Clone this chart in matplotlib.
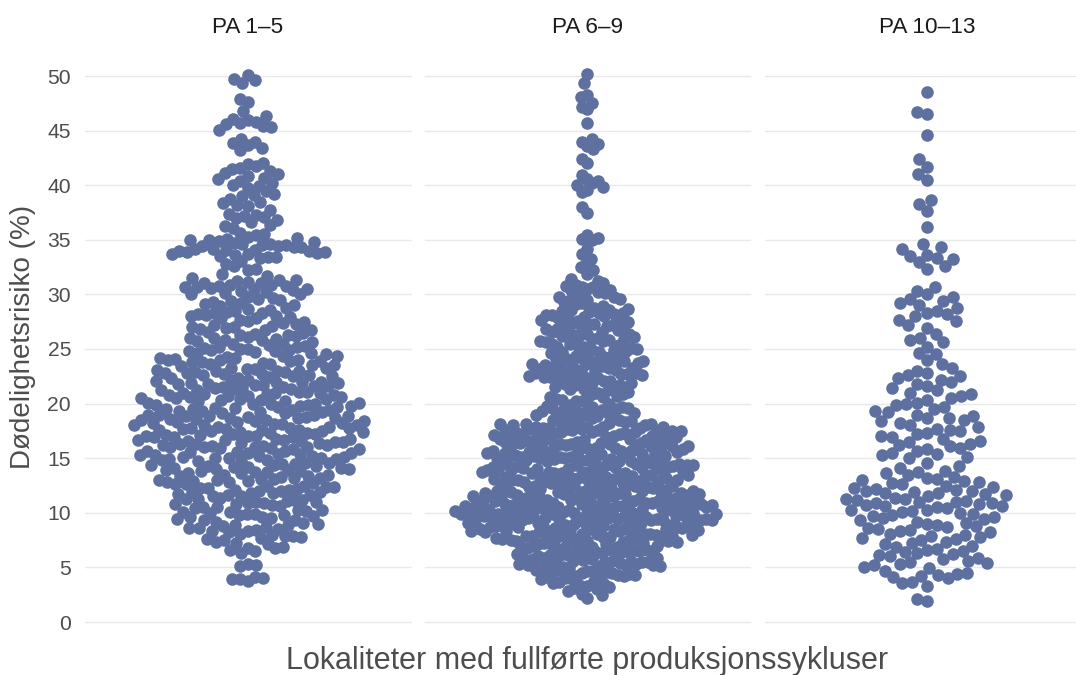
import matplotlib
matplotlib.use('Agg')
import matplotlib.pyplot as plt
import numpy as np

panel_names = ['PA 1–5', 'PA 6–9', 'PA 10–13']
y_ticks = [0, 5, 10, 15, 20, 25, 30, 35, 40, 45, 50]

pa_1_5 = [3.8,3.9,3.9,4.0,4.1,5.1,5.2,5.3,
6.3,6.5,6.6,6.8,6.8,6.9,
7.1,7.2,7.3,7.5,7.6,7.7,7.8,7.9,7.9,
8.0,8.1,8.2,8.3,8.3,8.4,8.5,8.6,8.6,8.7,8.8,8.9,8.9,
9.0,9.1,9.2,9.3,9.3,9.4,9.5,9.6,9.6,9.7,9.8,9.8,9.9,9.9,
10.0,10.1,10.1,10.2,10.3,10.3,10.4,10.5,10.5,10.6,10.7,10.8,10.8,10.9,10.9,
11.0,11.0,11.1,11.2,11.2,11.3,11.3,11.4,11.5,11.5,11.6,11.6,11.7,11.8,11.8,11.9,11.9,
12.0,12.0,12.1,12.1,12.2,12.3,12.3,12.4,12.4,12.5,12.5,12.6,12.6,12.7,12.8,12.8,12.9,12.9,13.0,
13.0,13.1,13.1,13.2,13.2,13.3,13.4,13.4,13.5,13.5,13.6,13.6,13.7,13.7,13.8,13.8,13.9,13.9,14.0,14.0,
14.1,14.1,14.2,14.2,14.3,14.3,14.4,14.4,14.5,14.5,14.6,14.6,14.7,14.7,14.8,14.8,14.9,14.9,15.0,15.0,15.0,
15.1,15.1,15.2,15.2,15.3,15.3,15.4,15.4,15.5,15.5,15.6,15.6,15.7,15.7,15.8,15.8,15.9,15.9,16.0,16.0,16.0,16.0,
16.1,16.1,16.2,16.2,16.3,16.3,16.4,16.4,16.5,16.5,16.6,16.6,16.7,16.7,16.7,16.8,16.8,16.9,16.9,16.9,17.0,17.0,17.0,
17.1,17.1,17.2,17.2,17.3,17.3,17.4,17.4,17.5,17.5,17.6,17.6,17.6,17.7,17.7,17.8,17.8,17.8,17.9,17.9,18.0,18.0,18.0,
18.1,18.1,18.2,18.2,18.3,18.3,18.4,18.4,18.5,18.5,18.6,18.6,18.7,18.7,18.7,18.8,18.8,18.9,18.9,18.9,19.0,19.0,19.0,
19.1,19.1,19.2,19.2,19.3,19.3,19.4,19.4,19.5,19.5,19.6,19.6,19.7,19.7,19.8,19.8,19.9,19.9,20.0,20.0,20.0,
20.1,20.1,20.2,20.2,20.3,20.3,20.4,20.4,20.5,20.5,20.6,20.6,20.7,20.7,20.8,20.8,20.9,20.9,21.0,21.0,21.0,
21.1,21.1,21.2,21.2,21.3,21.3,21.4,21.4,21.5,21.5,21.6,21.6,21.7,21.7,21.8,21.8,21.9,21.9,22.0,22.0,22.0,
22.1,22.2,22.2,22.3,22.3,22.4,22.5,22.5,22.6,22.6,22.7,22.7,22.8,22.8,22.9,22.9,23.0,23.0,23.0,
23.1,23.2,23.2,23.3,23.3,23.4,23.5,23.5,23.6,23.6,23.7,23.8,23.8,23.9,23.9,24.0,24.0,24.0,
24.1,24.2,24.2,24.3,24.4,24.4,24.5,24.6,24.6,24.7,24.8,24.8,24.9,24.9,25.0,25.0,
25.1,25.2,25.2,25.3,25.4,25.5,25.5,25.6,25.7,25.8,25.8,25.9,26.0,26.0,
26.1,26.2,26.3,26.3,26.4,26.5,26.6,26.7,26.7,26.8,26.9,27.0,27.0,
27.1,27.2,27.3,27.4,27.5,27.6,27.7,27.8,27.8,27.9,28.0,28.0,
28.1,28.2,28.3,28.3,28.4,28.5,28.6,28.7,28.8,28.9,29.0,
29.1,29.2,29.3,29.4,29.5,29.6,29.7,29.8,30.0,30.0,
30.1,30.2,30.3,30.4,30.5,30.5,30.6,30.7,30.7,30.8,30.8,30.9,30.9,31.0,31.0,
31.1,31.2,31.3,31.3,31.5,31.7,31.9,32.2,32.3,32.6,32.8,
33.1,33.3,33.4,33.4,33.5,33.6,33.7,33.7,33.8,33.9,33.9,
34.0,34.0,34.1,34.1,34.2,34.2,34.3,34.3,34.4,34.4,34.5,34.5,34.6,34.6,34.7,34.8,34.9,
35.0,35.0,35.1,35.2,35.3,35.4,35.5,35.6,36.1,36.3,36.4,36.6,36.8,
37.0,37.1,37.2,37.3,37.4,37.7,38.1,38.2,38.4,38.5,38.7,
39.0,39.1,39.2,39.5,39.7,39.9,40.0,40.2,40.4,40.6,40.7,40.8,
41.0,41.1,41.3,41.5,41.6,41.8,41.9,42.0,
43.2,43.4,43.7,43.9,44.0,44.2,
45.1,45.3,45.4,45.6,45.7,45.8,46.0,46.1,46.3,46.8,
47.6,47.9,49.4,49.6,49.7,50.1]

pa_6_9 = [2.2,2.5,2.6,2.8,3.0,3.1,3.2,3.3,3.4,3.5,3.6,3.7,3.8,3.9,
4.0,4.0,4.1,4.1,4.2,4.2,4.3,4.3,4.4,4.5,4.5,4.6,4.6,4.7,4.7,4.8,4.8,4.9,4.9,
5.0,5.0,5.1,5.1,5.2,5.2,5.3,5.3,5.4,5.4,5.5,5.5,5.6,5.6,5.7,5.7,5.8,5.8,5.9,5.9,
6.0,6.0,6.1,6.1,6.2,6.2,6.3,6.3,6.4,6.4,6.5,6.5,6.6,6.6,6.7,6.7,6.8,6.8,6.9,6.9,
7.0,7.0,7.1,7.1,7.1,7.2,7.2,7.3,7.3,7.4,7.4,7.4,7.5,7.5,7.6,7.6,7.6,7.7,7.7,7.8,7.8,7.9,7.9,7.9,
8.0,8.0,8.0,8.1,8.1,8.1,8.2,8.2,8.2,8.3,8.3,8.3,8.4,8.4,8.4,8.5,8.5,8.5,8.6,8.6,8.6,8.7,8.7,8.7,8.8,8.8,8.8,8.9,8.9,8.9,
9.0,9.0,9.0,9.1,9.1,9.1,9.2,9.2,9.2,9.3,9.3,9.3,9.3,9.4,9.4,9.4,9.5,9.5,9.5,9.5,9.6,9.6,9.6,9.7,9.7,9.7,9.7,9.8,9.8,9.8,9.9,9.9,9.9,9.9,
10.0,10.0,10.0,10.1,10.1,10.1,10.1,10.2,10.2,10.2,10.3,10.3,10.3,10.3,10.4,10.4,10.4,10.5,10.5,10.5,10.5,10.6,10.6,10.6,10.7,10.7,10.7,10.7,10.8,10.8,10.8,10.9,10.9,10.9,10.9,11.0,
11.0,11.0,11.1,11.1,11.1,11.2,11.2,11.2,11.3,11.3,11.3,11.4,11.4,11.4,11.5,11.5,11.5,11.6,11.6,11.6,11.7,11.7,11.7,11.8,11.8,11.8,11.9,11.9,11.9,12.0,12.0,12.0,
12.1,12.1,12.2,12.2,12.3,12.3,12.4,12.4,12.5,12.5,12.5,12.6,12.6,12.7,12.7,12.7,12.8,12.8,12.9,12.9,12.9,13.0,13.0,13.0,13.1,13.1,
13.2,13.2,13.2,13.3,13.3,13.4,13.4,13.4,13.5,13.5,13.6,13.6,13.6,13.7,13.7,13.8,13.8,13.8,13.9,13.9,14.0,14.0,14.0,14.1,14.1,14.2,14.2,14.3,
14.3,14.4,14.4,14.4,14.5,14.5,14.6,14.6,14.6,14.7,14.7,14.8,14.8,14.8,14.9,14.9,15.0,15.0,15.0,15.1,15.1,15.2,15.2,15.3,15.3,15.4,
15.4,15.5,15.5,15.5,15.6,15.6,15.7,15.7,15.7,15.8,15.8,15.9,15.9,15.9,16.0,16.0,16.1,16.1,16.2,16.2,16.3,16.3,16.4,
16.4,16.5,16.5,16.5,16.6,16.6,16.7,16.7,16.7,16.8,16.8,16.9,16.9,16.9,17.0,17.0,17.1,17.1,17.2,17.2,17.3,17.3,17.4,
17.4,17.5,17.5,17.5,17.6,17.6,17.7,17.7,17.7,17.8,17.8,17.9,17.9,17.9,18.0,18.0,18.1,18.1,18.2,18.2,18.3,18.4,18.5,
18.6,18.7,18.8,18.9,19.0,19.1,19.1,19.2,19.3,19.4,19.5,19.6,19.6,19.7,19.8,
20.0,20.2,20.3,20.5,20.6,20.7,20.9,21.0,21.2,21.3,21.5,21.7,
21.8,21.9,22.0,22.1,22.2,22.3,22.4,22.5,22.6,22.7,22.7,22.8,22.9,23.0,
23.0,23.1,23.2,23.3,23.3,23.4,23.5,23.6,23.6,23.7,23.8,23.8,23.9,24.0,
24.1,24.2,24.3,24.4,24.5,24.6,24.7,24.8,24.9,25.0,25.1,25.2,
25.3,25.4,25.5,25.6,25.7,25.8,25.9,26.0,26.1,26.2,26.3,26.4,
26.5,26.6,26.7,26.8,26.9,27.0,27.1,27.2,27.3,27.4,27.5,27.6,
27.7,27.8,27.9,28.0,28.1,28.2,28.3,28.4,28.5,28.6,28.7,28.9,
29.1,29.3,29.5,29.6,29.8,30.0,30.2,30.4,30.5,30.7,30.8,30.9,31.0,31.2,31.4,
31.9,32.2,32.5,32.8,33.2,33.7,34.2,35.0,35.1,35.2,35.4,
37.5,38.0,39.4,39.6,39.8,40.0,40.2,40.4,40.6,40.9,
42.0,42.4,43.3,43.6,43.8,44.0,44.2,45.7,
47.0,47.2,47.5,48.1,48.3,49.4,50.2,
5.2,5.5,5.8,6.1,6.4,6.6,6.9,7.1,7.4,7.6,7.9,
8.1,8.3,8.5,8.7,8.9,9.1,9.3,9.4,9.6,9.7,9.9,
10.0,10.1,10.3,10.4,10.6,10.7,10.8,10.9,11.1,11.2,11.4,11.5,11.7,11.8,11.9,
12.1,12.3,12.5,12.7,12.9,13.1,13.3,13.4,13.6,13.7,13.9,
14.1,14.2,14.4,14.5,14.7,14.8,14.9,15.1,15.2,15.4,15.5,15.7,15.8,15.9,
16.1,16.3,16.4,16.6,16.8,16.9,17.1,17.3,17.4,17.6,17.8,17.9,
18.1,18.3,18.5,18.7,18.9,19.1,19.3,19.5,19.7,19.9,
20.2,20.4,20.6,20.9,21.1,21.3,21.5,21.7,21.9,
22.1,22.3,22.4,22.6,22.8,22.9,23.1,23.3,23.5,23.7,23.9,
24.1,24.3,24.5,24.7,24.9,25.2,25.5,25.7,25.9,
26.2,26.4,26.6,26.8,27.1,27.3,27.6,27.8,
28.1,28.3,28.6,28.8,29.2,29.5,29.8,30.1,30.4,30.7]

pa_10_13 = [1.9,2.1,3.3,3.6,3.7,
4.0,4.1,4.2,4.3,4.4,4.5,4.7,4.9,
5.0,5.2,5.3,5.4,5.5,5.6,5.8,5.9,
6.0,6.1,6.2,6.3,6.4,6.5,6.6,6.7,6.9,
7.0,7.1,7.2,7.3,7.5,7.6,7.7,7.8,7.9,
8.0,8.1,8.2,8.3,8.4,8.5,8.6,8.7,8.8,8.9,
9.0,9.1,9.2,9.3,9.4,9.5,9.6,9.7,9.8,9.9,
10.0,10.1,10.2,10.3,10.3,10.4,10.5,10.6,10.6,10.7,10.8,10.9,10.9,11.0,11.0,
11.1,11.2,11.3,11.3,11.4,11.5,11.6,11.7,11.8,11.8,11.9,12.0,12.0,
12.1,12.2,12.3,12.4,12.5,12.6,12.7,12.8,12.9,13.0,
13.1,13.2,13.3,13.5,13.6,13.7,13.8,14.1,14.3,14.6,
15.0,15.1,15.3,15.4,15.5,15.7,15.8,15.9,16.1,
16.2,16.3,16.5,16.6,16.8,16.9,17.0,17.2,17.3,17.5,
17.6,17.7,17.9,18.0,18.2,18.4,18.5,18.7,18.7,18.9,
19.0,19.2,19.3,19.5,19.7,19.9,20.0,20.1,20.3,
20.5,20.7,20.9,21.0,21.2,21.4,21.6,21.8,
22.0,22.2,22.3,22.5,22.6,22.8,23.0,23.3,23.6,
24.0,24.5,24.6,25.2,25.6,25.8,26.0,26.4,26.9,27.2,27.6,27.7,
28.0,28.2,28.3,28.5,28.8,29.0,29.2,29.4,29.6,29.8,
30.0,30.3,30.7,32.3,32.6,33.0,33.2,33.3,33.5,33.6,
34.2,34.3,34.6,36.2,37.6,38.3,38.6,40.5,41.0,41.7,42.4,44.6,46.5,46.7,48.5]

panels = [pa_1_5, pa_6_9, pa_10_13]
swarm_dist = [11, 10, 12]
x_scale = [0.72, 0.58, 0.85]

plt.rcParams['font.family'] = ['Liberation Sans', 'DejaVu Sans']

W, H = 1076, 675
y_px = 546 / 50  # pixels per risk unit


def swarm(values, dist):
    # places each point as near the centre as it can go, order scrambled by a hash of the index
    ys = np.sort(np.array(values)) * y_px
    n = len(ys)
    order = np.argsort((np.sin(np.arange(n) * 12.9898) * 43758.5453) % 1)
    xs = np.zeros(n)
    done = []
    for i in order:
        y = ys[i]
        near = [(xs[j], ys[j]) for j in done if abs(y - ys[j]) < dist]
        options = [0.0]
        for px, py in near:
            step = np.sqrt(dist ** 2 - (y - py) ** 2)
            options += [px - step, px + step]
        options.sort(key=abs)
        for c in options:
            if all((c - px) ** 2 + (y - py) ** 2 >= dist ** 2 - 1e-6 for px, py in near):
                xs[i] = c
                break
        done.append(i)
    return xs, ys / y_px


fig = plt.figure(figsize=(W / 100, H / 100), dpi=100)
lefts = [85, 424.5, 764.5]
for i, left in enumerate(lefts):
    ax = fig.add_axes([left / W, (H - 622) / H, 325.5 / W, 546 / H])
    x, y = swarm(panels[i], swarm_dist[i])
    ax.set_axisbelow(True)
    ax.grid(axis='y', color='#e9e9e9', lw=1.0)
    ax.scatter(x * x_scale[i], y, s=82, color='#5D70A0', linewidths=0, clip_on=False, zorder=3)
    ax.set_xlim(-162.75, 162.75)
    ax.set_ylim(0, 50)
    ax.set_yticks(y_ticks)
    ax.set_xticks([])
    ax.tick_params(length=0, labelsize=15.2, labelcolor='#4d4d4d', pad=10)
    for s in ax.spines.values():
        s.set_visible(False)
    for g in ax.get_ygridlines():
        g.set_clip_on(False)
    if i > 0:
        ax.tick_params(labelleft=False)
    ax.set_title(panel_names[i], fontsize=16.2, color='#1a1a1a', y=1.0, pad=31)

fig.text(587 / W, 1 - 661 / H, 'Lokaliteter med fullførte produksjonssykluser',
         ha='center', va='center', fontsize=22, color='#4d4d4d')
fig.text(23 / W, 1 - 337 / H, 'Dødelighetsrisiko (%)', rotation=90,
         ha='center', va='center', fontsize=20, color='#4d4d4d')

fig.savefig('out.png', dpi=100)
